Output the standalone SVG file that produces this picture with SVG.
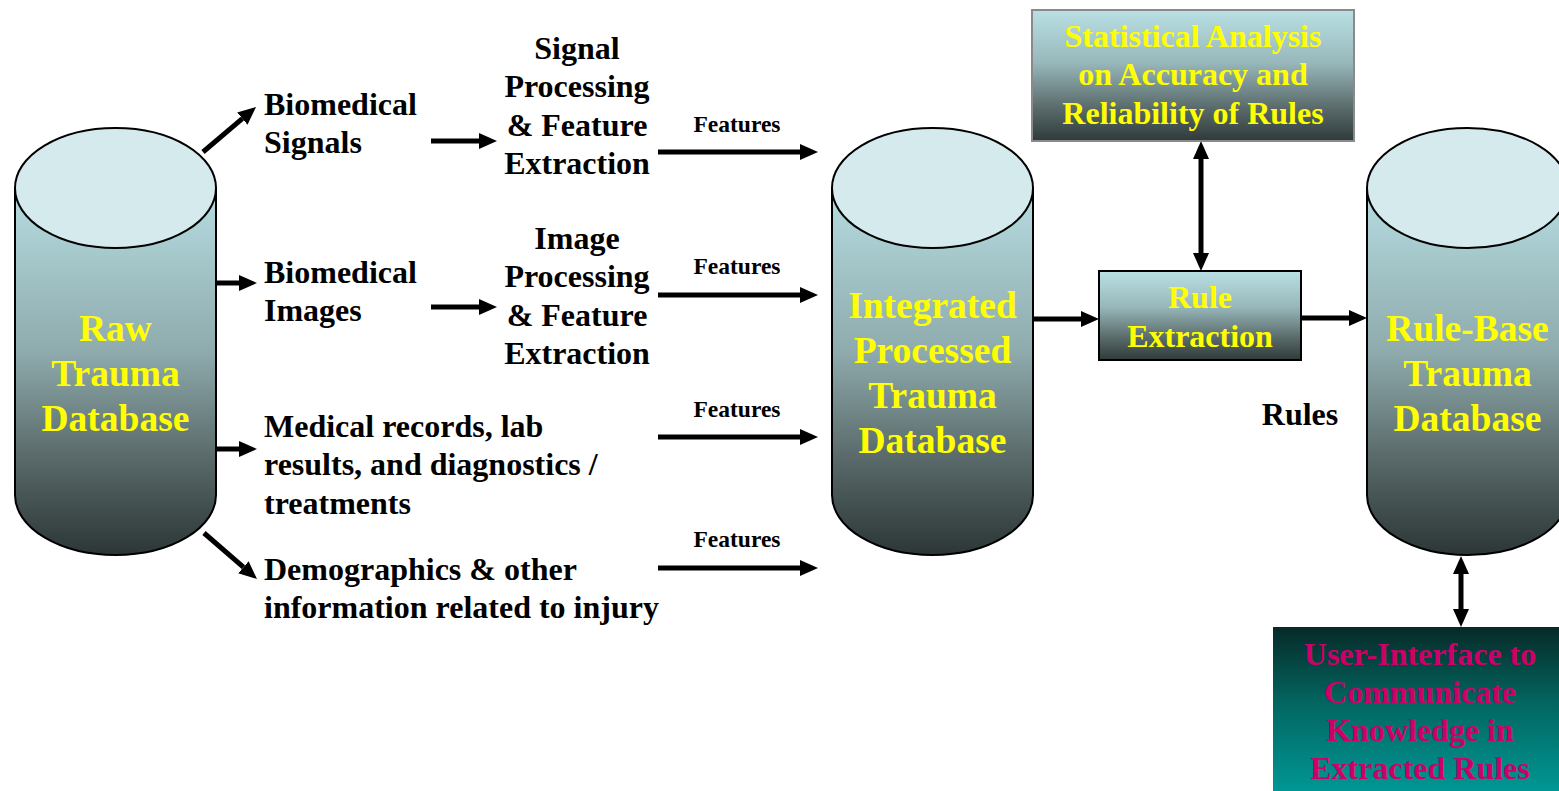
<svg xmlns="http://www.w3.org/2000/svg" width="1559" height="791" viewBox="0 0 1559 791">
<defs>
<linearGradient id="gBody" x1="0" y1="0" x2="0" y2="1">
<stop offset="0" stop-color="#b6dde1"/>
<stop offset="0.45" stop-color="#8eaaac"/>
<stop offset="0.75" stop-color="#576666"/>
<stop offset="1" stop-color="#2c3636"/>
</linearGradient>
<linearGradient id="gBox" x1="0" y1="0" x2="0" y2="1">
<stop offset="0" stop-color="#b9e0e4"/>
<stop offset="0.4" stop-color="#98b8bb"/>
<stop offset="0.75" stop-color="#5a6a6a"/>
<stop offset="1" stop-color="#2f3a3a"/>
</linearGradient>
<linearGradient id="gUI" x1="0" y1="0" x2="0" y2="1">
<stop offset="0" stop-color="#062a28"/>
<stop offset="0.45" stop-color="#036660"/>
<stop offset="1" stop-color="#009a98"/>
</linearGradient>
<marker id="ah" markerUnits="userSpaceOnUse" markerWidth="18" markerHeight="16" refX="0" refY="8" orient="auto-start-reverse" viewBox="0 0 18 16">
<path d="M0,0 L18,8 L0,16 Z" fill="#000"/>
</marker>
<style>
.cylbody{fill:url(#gBody);stroke:#000;stroke-width:2}
.cyltop{fill:#d5eaec;stroke:#000;stroke-width:2}
.ct{font-family:"Liberation Serif","Times New Roman",serif;font-weight:bold;font-size:37.5px;fill:#ffff00;text-anchor:middle}
.lbl{font-family:"Liberation Serif","Times New Roman",serif;font-weight:bold;font-size:32px;fill:#000}
.mid{text-anchor:middle}
.feat{font-family:"Liberation Serif","Times New Roman",serif;font-weight:bold;font-size:23.5px;fill:#000;text-anchor:middle}
.bt{font-family:"Liberation Serif","Times New Roman",serif;font-weight:bold;font-size:32px;fill:#ffff00;text-anchor:middle}
.ut{font-family:"Liberation Serif","Times New Roman",serif;font-weight:bold;font-size:32px;fill:#cc0066;text-anchor:middle}
.arr{stroke:#000;stroke-width:5;fill:none;marker-end:url(#ah)}
.darr{stroke:#000;stroke-width:5;fill:none;marker-end:url(#ah);marker-start:url(#ah)}
</style>
</defs>
<rect width="1559" height="791" fill="#fff"/>

<g id="connectors">
<line class="arr" x1="203" y1="152" x2="242.3" y2="118.6"/>
<line class="arr" x1="431" y1="141" x2="479" y2="141"/>
<line class="arr" x1="216" y1="283" x2="239" y2="283"/>
<line class="arr" x1="431" y1="307" x2="479" y2="307"/>
<line class="arr" x1="216" y1="449" x2="239" y2="449"/>
<line class="arr" x1="204" y1="533" x2="243.4" y2="567.2"/>
<line class="arr" x1="658" y1="152" x2="800" y2="152"/>
<line class="arr" x1="658" y1="295" x2="800" y2="295"/>
<line class="arr" x1="658" y1="437" x2="800" y2="437"/>
<line class="arr" x1="658" y1="568" x2="800" y2="568"/>
<line class="arr" x1="1033" y1="319" x2="1081" y2="319"/>
<line class="arr" x1="1301" y1="318" x2="1349" y2="318"/>
<line class="darr" x1="1201" y1="159" x2="1201" y2="253"/>
<line class="darr" x1="1461" y1="574" x2="1461" y2="609"/>
</g>

<g id="raw-db">
<path class="cylbody" d="M15,188 L15,495 A100.5,60 0 0 0 216,495 L216,188 Z"/>
<ellipse class="cyltop" cx="115.5" cy="188" rx="100.5" ry="60"/>
<text class="ct" x="115.5" y="341">Raw</text>
<text class="ct" x="115.5" y="386">Trauma</text>
<text class="ct" x="115.5" y="431">Database</text>
</g>

<g id="integrated-db">
<path class="cylbody" d="M832,188 L832,495 A100.5,60 0 0 0 1033,495 L1033,188 Z"/>
<ellipse class="cyltop" cx="932.5" cy="188" rx="100.5" ry="60"/>
<text class="ct" x="932.5" y="318">Integrated</text>
<text class="ct" x="932.5" y="363">Processed</text>
<text class="ct" x="932.5" y="408">Trauma</text>
<text class="ct" x="932.5" y="453">Database</text>
</g>

<g id="rulebase-db">
<path class="cylbody" d="M1367,188 L1367,495 A100.5,60 0 0 0 1568,495 L1568,188 Z"/>
<ellipse class="cyltop" cx="1467.5" cy="188" rx="100.5" ry="60"/>
<text class="ct" x="1467.5" y="341">Rule-Base</text>
<text class="ct" x="1467.5" y="386">Trauma</text>
<text class="ct" x="1467.5" y="431">Database</text>
</g>

<g id="biomedical-signals">
<text class="lbl" x="264" y="115">Biomedical</text>
<text class="lbl" x="264" y="153">Signals</text>
</g>

<g id="biomedical-images">
<text class="lbl" x="264" y="283">Biomedical</text>
<text class="lbl" x="264" y="321">Images</text>
</g>

<g id="medical-records">
<text class="lbl" x="264" y="437">Medical records, lab</text>
<text class="lbl" x="264" y="475">results, and diagnostics /</text>
<text class="lbl" x="264" y="514">treatments</text>
</g>

<g id="demographics">
<text class="lbl" x="264" y="580">Demographics &amp; other</text>
<text class="lbl" x="264" y="618">information related to injury</text>
</g>

<g id="signal-processing">
<text class="lbl mid" x="577" y="59">Signal</text>
<text class="lbl mid" x="577" y="97">Processing</text>
<text class="lbl mid" x="577" y="136">&amp; Feature</text>
<text class="lbl mid" x="577" y="174">Extraction</text>
</g>

<g id="image-processing">
<text class="lbl mid" x="577" y="249">Image</text>
<text class="lbl mid" x="577" y="287">Processing</text>
<text class="lbl mid" x="577" y="326">&amp; Feature</text>
<text class="lbl mid" x="577" y="364">Extraction</text>
</g>

<g id="feature-labels">
<text class="feat" x="737" y="132">Features</text>
<text class="feat" x="737" y="274">Features</text>
<text class="feat" x="737" y="417">Features</text>
<text class="feat" x="737" y="547">Features</text>
</g>

<g id="statistical-analysis">
<rect x="1032" y="10" width="322" height="131" fill="url(#gBox)" stroke="#8a8a8a" stroke-width="2"/>
<text class="bt" x="1193" y="47">Statistical Analysis</text>
<text class="bt" x="1193" y="85">on Accuracy and</text>
<text class="bt" x="1193" y="124">Reliability of Rules</text>
</g>

<g id="rule-extraction">
<rect x="1099" y="271" width="202" height="89" fill="url(#gBox)" stroke="#000" stroke-width="2"/>
<text class="bt" x="1200" y="308">Rule</text>
<text class="bt" x="1200" y="347">Extraction</text>
</g>

<g id="rules-label">
<text class="lbl mid" x="1300" y="425">Rules</text>
</g>

<g id="user-interface">
<rect x="1273" y="627" width="290" height="170" fill="url(#gUI)"/>
<text class="ut" x="1420" y="665">User-Interface to</text>
<text class="ut" x="1420" y="703">Communicate</text>
<text class="ut" x="1420" y="741">Knowledge in</text>
<text class="ut" x="1420" y="779">Extracted Rules</text>
</g>
</svg>
